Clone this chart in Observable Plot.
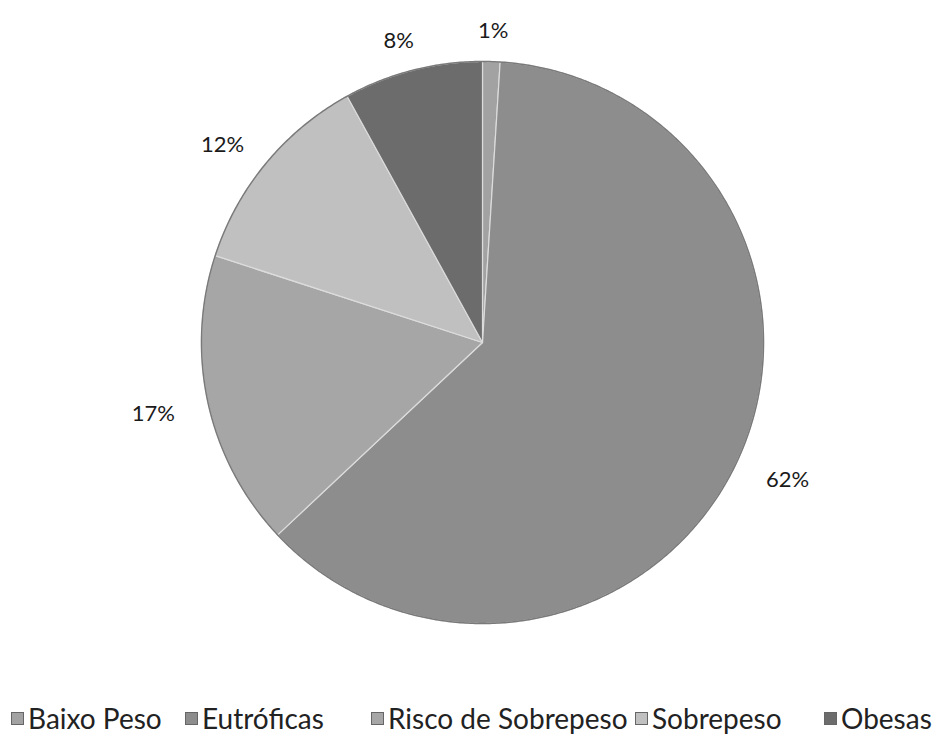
<!DOCTYPE html>
<html><head><meta charset="utf-8">
<script src="https://cdn.jsdelivr.net/npm/d3@7"></script>
<script src="https://cdn.jsdelivr.net/npm/@observablehq/plot@0.6"></script>
<style>
body{margin:0;background:#fff;font-family:Lato,"Open Sans",sans-serif;overflow:hidden;}
#legend{position:absolute;top:700px;left:0;width:941px;height:40px;font-size:28px;color:#222;}
.item{position:absolute;top:0;display:flex;align-items:center;white-space:nowrap;line-height:36px;}
.sw{width:13px;height:13px;border:1px solid #666;margin-right:4px;box-sizing:border-box;}
</style>
</head><body>
<div id="chart"></div>
<div id="legend"></div>
<script>
const categories = ["Baixo Peso", "Eutróficas", "Risco de Sobrepeso", "Sobrepeso", "Obesas"];
const values = [1, 62, 17, 12, 8];
const labels = ["1%", "62%", "17%", "12%", "8%"];
const colors = ["#a2a2a2", "#8d8d8d", "#a6a6a6", "#c0c0c0", "#6c6c6c"];
const legendX = [11, 185, 371, 635, 824];

const data = categories.map((c, i) => ({cat: c, value: values[i], label: labels[i]}));
const arcs = d3.pie().sort(null).value(d => d.value)(data);

const pts = [];
for (const a of arcs) {
  pts.push({cat: a.data.cat, x: 0, y: 0});
  const n = Math.max(2, Math.ceil((a.endAngle - a.startAngle) / 0.004));
  for (let i = 0; i <= n; i++) {
    const t = a.startAngle + (a.endAngle - a.startAngle) * i / n;
    pts.push({cat: a.data.cat, x: Math.sin(t), y: Math.cos(t)});
  }
}
const ring = d3.range(0, 721).map(i => {
  const t = i / 720 * 2 * Math.PI;
  return {x: Math.sin(t), y: Math.cos(t)};
});
const lab = arcs.map(a => {
  const m = (a.startAngle + a.endAngle) / 2;
  return {label: a.data.label, x: 1.2 * Math.sin(m), y: 1.12 * Math.cos(m)};
});

const chart = Plot.plot({
  width: 941,
  height: 660,
  margin: 0,
  style: {background: "#fff", fontFamily: "Lato, 'Open Sans', sans-serif"},
  x: {domain: [-1, 1], range: [201, 763], axis: null},
  y: {domain: [-1, 1], range: [623, 61], axis: null},
  color: {domain: categories, range: colors},
  marks: [
    Plot.line(pts, {x: "x", y: "y", z: "cat", fill: "cat", stroke: "#dcdcdc", strokeWidth: 1.2, curve: "linear-closed"}),
    Plot.line(ring, {x: "x", y: "y", stroke: "#7a7a7a", strokeWidth: 1.5}),
    Plot.text(lab, {x: "x", y: "y", text: "label", fontSize: 22, fill: "#1a1a1a", dy: 3})
  ]
});
document.getElementById("chart").appendChild(chart);

const leg = document.getElementById("legend");
categories.forEach((c, i) => {
  const it = document.createElement("div");
  it.className = "item";
  it.style.left = legendX[i] + "px";
  const sw = document.createElement("span");
  sw.className = "sw";
  sw.style.background = colors[i];
  const tx = document.createElement("span");
  tx.textContent = c;
  it.appendChild(sw); it.appendChild(tx);
  leg.appendChild(it);
});
</script>
</body></html>
